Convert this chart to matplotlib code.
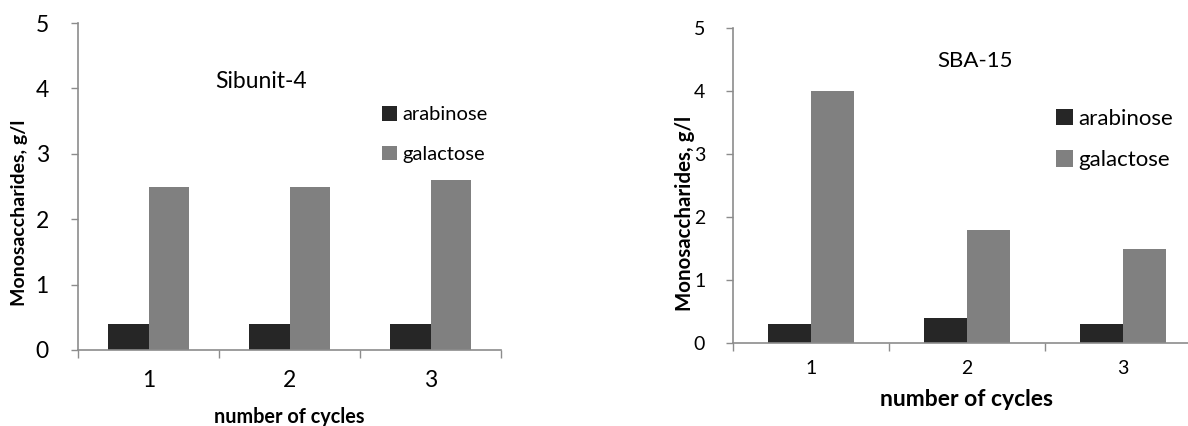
import matplotlib
matplotlib.use("Agg")
import matplotlib.pyplot as plt
import numpy as np

plt.rcParams['font.family'] = ['Lato', 'DejaVu Sans']

cycles = ["1", "2", "3"]
series_names = ["arabinose", "galactose"]
sib_arabinose = [0.4, 0.4, 0.4]
sib_galactose = [2.5, 2.5, 2.6]
sba_arabinose = [0.3, 0.4, 0.3]
sba_galactose = [4.0, 1.8, 1.5]
yticks = [0, 1, 2, 3, 4, 5]

C_ARA = "#262626"
C_GAL = "#808080"
C_AX = "#8c8c8c"

W, H = 1188, 426
fig = plt.figure(figsize=(W / 100, H / 100), dpi=100)


def panel(rect, ara, gal, title, title_xy, title_fs, leg_xy, w, tfs, ytick_pad, xtick_y,
          xlab_fs, xlab_y, legfs, ylabfs, ylab_x, legspace):
    ax = fig.add_axes(rect)
    x = np.arange(len(cycles))
    b1 = ax.bar(x - w / 2, ara, w, color=C_ARA, label=series_names[0])
    b2 = ax.bar(x + w / 2, gal, w, color=C_GAL, label=series_names[1])
    ax.set_xlim(-0.5, len(cycles) - 0.5)
    ax.set_ylim(0, 5)
    ax.set_yticks(yticks)
    ax.set_yticklabels([str(v) for v in yticks], fontsize=tfs)
    ax.set_xticks(x)
    ax.set_xticklabels(cycles, fontsize=tfs)
    ax.set_xticks(np.arange(len(cycles) + 1) - 0.5, minor=True)
    ax.tick_params(axis='x', which='major', length=0, pad=0)
    ax.tick_params(axis='x', which='minor', length=6, color=C_AX, width=1, direction='out')
    ax.tick_params(axis='y', length=5, color=C_AX, width=1, pad=ytick_pad)
    for lbl in ax.get_xticklabels():
        lbl.set_verticalalignment('center')
    ax.xaxis.set_tick_params(pad=xtick_y)
    for s in ['top', 'right']:
        ax.spines[s].set_visible(False)
    for s in ['left', 'bottom']:
        ax.spines[s].set_color(C_AX)
        ax.spines[s].set_linewidth(1.2)
    ax.set_xlabel("number of cycles", fontsize=xlab_fs, fontweight='bold')
    ax.xaxis.set_label_coords(0.5, 1 - xlab_y / H, transform=fig.transFigure)
    ax.xaxis.label.set_verticalalignment('center')
    ax.set_ylabel("Monosaccharides, g/l", fontsize=ylabfs, fontweight='bold')
    ax.yaxis.set_label_coords(ylab_x / W, 0.5, transform=fig.transFigure)
    ax.yaxis.label.set_verticalalignment('center')
    fig.text(title_xy[0] / W, 1 - title_xy[1] / H, title, fontsize=title_fs,
             ha='center', va='center')
    ax.legend(handles=[b1, b2], loc='upper left', bbox_to_anchor=(leg_xy[0] / W, 1 - leg_xy[1] / H),
              bbox_transform=fig.transFigure, frameon=False, fontsize=legfs,
              handlelength=0.75, handleheight=0.75, handletextpad=0.25,
              labelspacing=legspace, borderpad=0, borderaxespad=0)
    return ax


ax1 = panel([78 / W, 76 / H, 423 / W, 327 / H],
            sib_arabinose, sib_galactose, "Sibunit-4", (261, 82), 16.5,
            (382, 106), 0.284, 16.5, 16, 22, 14.3, 417, 14.5, 14, 20, 1.1)
ax1.xaxis.label.set_x(289.5 / W)

ax2 = panel([733 / W, 83 / H, 468 / W, 315 / H],
            sba_arabinose, sba_galactose, "SBA-15", (975, 61), 16,
            (1056, 109), 0.277, 14, 15, 18, 16.5, 400, 16, 14.8, 685, 0.95)
ax2.xaxis.label.set_x(966 / W)

fig.savefig("out.png", dpi=100)
